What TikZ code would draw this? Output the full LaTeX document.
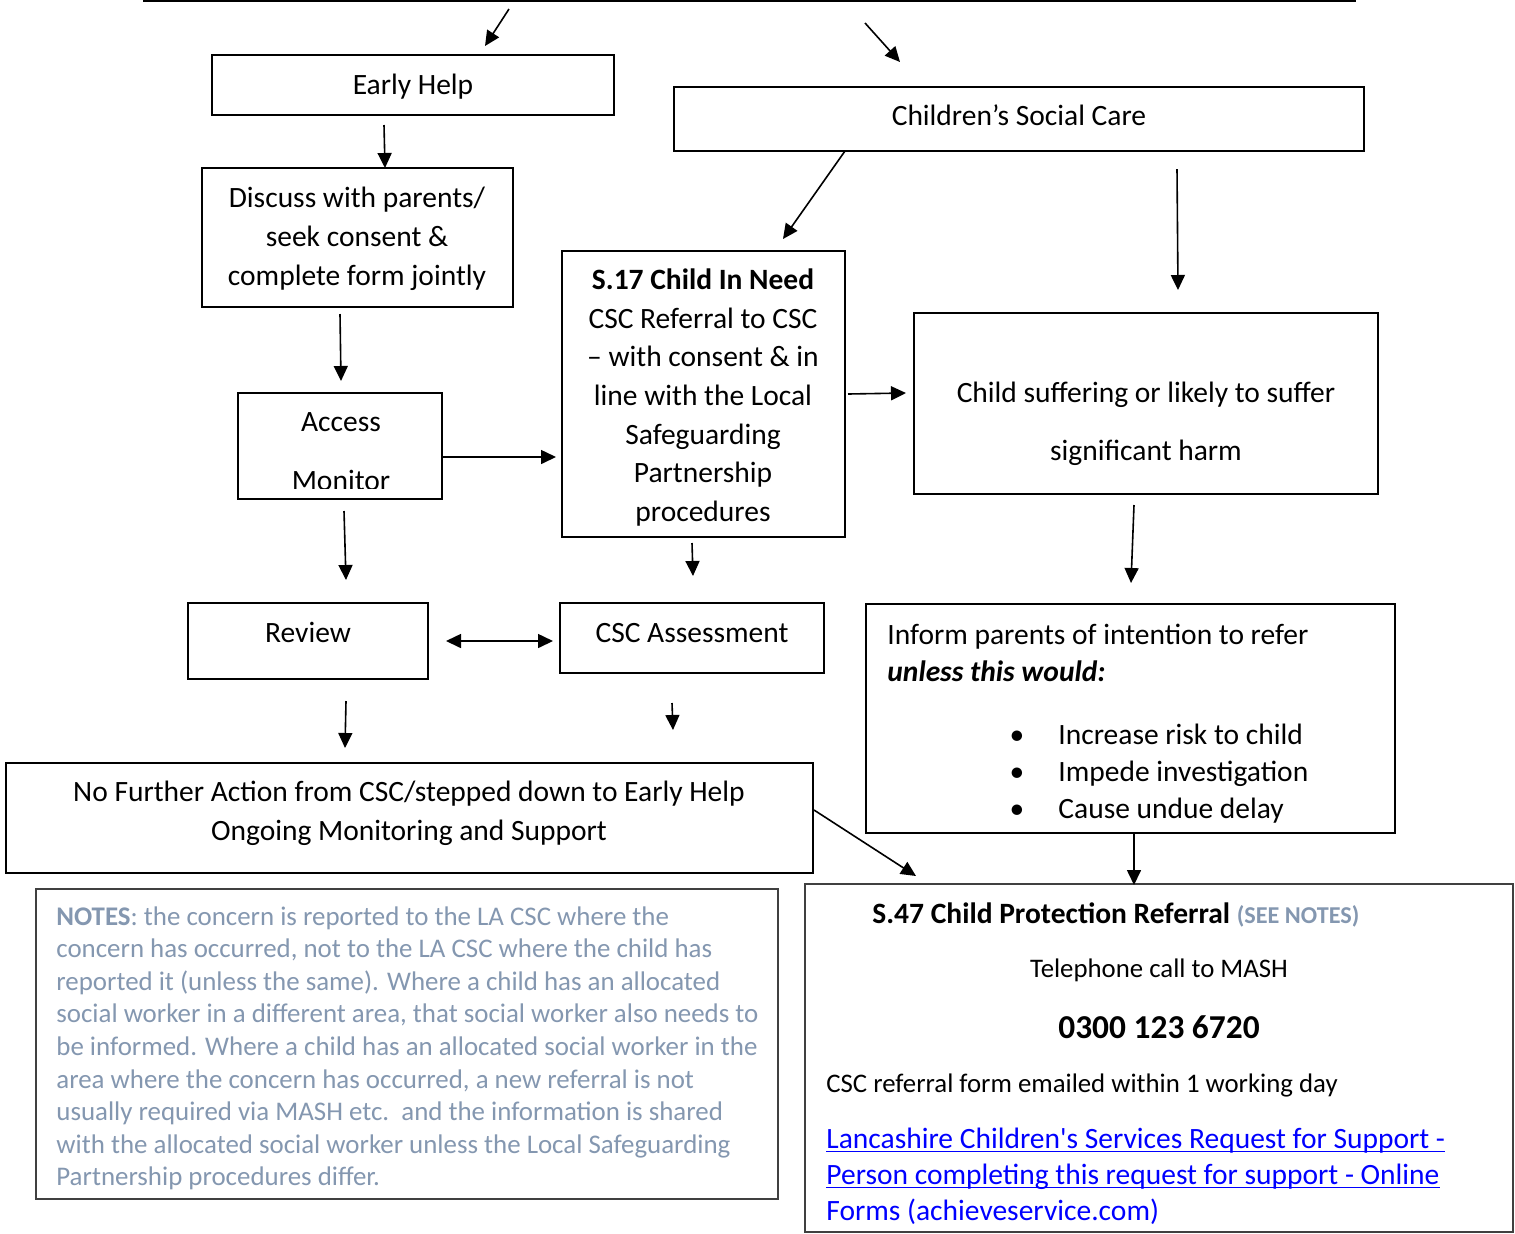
\documentclass[tikz,border=0pt]{standalone}
\usepackage{fontspec}
\setmainfont{Carlito}
\usetikzlibrary{arrows.meta,fit}
\definecolor{notecol}{HTML}{8497B0}
\definecolor{linkblue}{HTML}{0000FF}
\definecolor{boxgray}{HTML}{404040}
\newcommand\mainsz{\fontsize{14.75pt}{19.35pt}\selectfont}
\newcommand\notesz{\fontsize{13.45pt}{16.3pt}\selectfont}
\newcommand\smsz{\fontsize{13.4pt}{16pt}\selectfont}
\newcommand\myul[1]{\setbox0\hbox{#1}\rlap{\rule[-2pt]{\wd0}{0.6pt}}\box0}
\begin{document}
\begin{tikzpicture}[x=0.5pt,y=-0.5pt,
  box/.style={draw=black,line width=0.9pt,inner sep=0pt,outer sep=0pt},
  nbox/.style={draw=boxgray,line width=0.7pt,inner sep=0pt,outer sep=0pt},
  txt/.style={anchor=base,inner sep=0pt,font=\mainsz},
  ltxt/.style={anchor=base west,inner sep=0pt,font=\mainsz},
  ntxt/.style={anchor=base west,inner sep=0pt,font=\notesz,text=notecol},
  arr/.style={line width=0.8pt,-{Triangle[length=7.5pt,width=7pt]}},
  darr/.style={line width=0.8pt,{Triangle[length=7.5pt,width=7pt]}-{Triangle[length=7.5pt,width=7pt]}}]
\useasboundingbox (0,0) rectangle (1515,1233);
\fill[white] (0,0) rectangle (1515,1233);

% top edge of box above
\draw[line width=1pt] (143,1) -- (1356,1);

% boxes
\node[box,fit={(212,55) (614,115)}] (eh) {};
\node[box,fit={(674,87) (1364,151)}] (csc) {};
\node[box,fit={(202,168) (513,307)}] (disc) {};
\node[box,fit={(562,251) (845,537)}] (s17) {};
\node[box,fit={(238,393) (442,499)}] (acc) {};
\node[box,fit={(914,313) (1378,494)}] (harm) {};
\node[box,fit={(188,603) (428,679)}] (rev) {};
\node[box,fit={(560,603) (824,673)}] (ass) {};
\node[box,fit={(866,604) (1395,833)}] (inf) {};
\node[box,fit={(6,763) (813,873)}] (nfa) {};
\node[nbox,fit={(36,889) (778,1199)}] (notes) {};
\node[nbox,fit={(805,884) (1513,1232)}] (s47) {};

% texts
\node[txt] (tEH) at (413,94) {Early Help};
\node[txt] (tCSC) at (1019,125) {Children’s Social Care};
\node[txt] (tD1) at (357,207) {Discuss with parents/};
\node[txt] (tD2) at (357,246) {seek consent \&};
\node[txt] (tD3) at (357,285) {complete form jointly};
\node[txt] (tS1) at (703,289) {\textbf{S.17 Child In Need}};
\node[txt] (tS2) at (703,328) {CSC Referral to CSC};
\node[txt] (tS3) at (703,366) {– with consent \& in};
\node[txt] (tS4) at (703,405) {line with the Local};
\node[txt] (tS5) at (703,444) {Safeguarding};
\node[txt] (tS6) at (703,482) {Partnership};
\node[txt] (tS7) at (703,521) {procedures};
\node[txt] (tA1) at (341,431) {Access};
\begin{scope}
\clip (238,393) rectangle (442,488);
\node[txt] (tA2) at (341,490) {Monitor};
\end{scope}
\node[txt] (tH1) at (1146,402) {Child suffering or likely to suffer};
\node[txt] (tH2) at (1146,460) {significant harm};
\node[txt] (tR) at (308,642) {Review};
\node[txt] (tAs) at (692,642) {CSC Assessment};
\node[ltxt] (tI1) at (887,644) {Inform parents of intention to refer};
\node[ltxt] (tI2) at (887,681) {\textbf{\textit{unless this would:}}};
\node[txt] (b1) at (1017,744) {•};
\node[txt] (b2) at (1017,781) {•};
\node[txt] (b3) at (1017,818) {•};
\node[ltxt] (tI3) at (1058,744) {Increase risk to child};
\node[ltxt] (tI4) at (1058,781) {Impede investigation};
\node[ltxt] (tI5) at (1058,818) {Cause undue delay};
\node[txt] (tN1) at (409,801) {No Further Action from CSC/stepped down to Early Help};
\node[txt] (tN2) at (409,840) {Ongoing Monitoring and Support};

% notes
\node[ntxt] (n1) at (56,925) {\textbf{NOTES}: the concern is reported to the LA CSC where the};
\node[ntxt] (n2) at (56,957.6) {concern has occurred, not to the LA CSC where the child has};
\node[ntxt] (n3) at (56,990.2) {reported it (unless the same). Where a child has an allocated};
\node[ntxt] (n4) at (56,1022.8) {social worker in a different area, that social worker also needs to};
\node[ntxt] (n5) at (56,1055.4) {be informed. Where a child has an allocated social worker in the};
\node[ntxt] (n6) at (56,1088) {area where the concern has occurred, a new referral is not};
\node[ntxt] (n7) at (56,1120.6) {usually required via MASH etc.\ \ and the information is shared};
\node[ntxt] (n8) at (56,1153.2) {with the allocated social worker unless the Local Safeguarding};
\node[ntxt] (n9) at (56,1185.8) {Partnership procedures differ.};

% S47
\node[ltxt] (p1) at (872,923) {\textbf{S.47 Child Protection Referral} {\fontsize{12.1pt}{14pt}\selectfont\bfseries\color{notecol}(SEE NOTES)}};
\node[txt,font=\smsz] (p2) at (1159,977) {Telephone call to MASH};
\node[txt,font=\fontsize{16.7pt}{20pt}\selectfont\bfseries] (p3) at (1159,1038) {0300 123 6720};
\node[ltxt,font=\smsz] (p4) at (826,1092) {CSC referral form emailed within 1 working day};
\node[ltxt,text=linkblue] (p5) at (826,1148) {\myul{Lancashire Children\textquotesingle s Services Request for Support -}};
\node[ltxt,text=linkblue] (p6) at (826,1184) {\myul{Person completing this request for support - Online}};
\node[ltxt,text=linkblue] (p7) at (826,1220) {Forms (achieveservice.com)};

% arrow coordinates
\coordinate (a1s) at (509,9);    \coordinate (a1e) at (485,46);
\coordinate (a2s) at (865,23);   \coordinate (a2e) at (900,62);
\coordinate (a3s) at (384,125);  \coordinate (a3e) at (385,168);
\coordinate (a4s) at (340,314);  \coordinate (a4e) at (341,381);
\coordinate (a5s) at (845,151);  \coordinate (a5e) at (783,239);
\coordinate (a6s) at (1177,169); \coordinate (a6e) at (1178,290);
\coordinate (a7s) at (442,457);  \coordinate (a7e) at (556,457);
\coordinate (a8s) at (344,511);  \coordinate (a8e) at (346,580);
\coordinate (a9s) at (692,543);  \coordinate (a9e) at (693,576);
\coordinate (a10s) at (446,641); \coordinate (a10e) at (553,641);
\coordinate (a11s) at (346,701); \coordinate (a11e) at (345,748);
\coordinate (a12s) at (672,703); \coordinate (a12e) at (673,730);
\coordinate (a13s) at (848,394); \coordinate (a13e) at (906,393);
\coordinate (a14s) at (1134,505);\coordinate (a14e) at (1131,583);
\coordinate (a15s) at (814,810); \coordinate (a15e) at (916,876);
\coordinate (a16s) at (1134,833);\coordinate (a16e) at (1134,885);

\draw[arr] (a1s) -- (a1e);
\draw[arr] (a2s) -- (a2e);
\draw[arr] (a3s) -- (a3e);
\draw[arr] (a4s) -- (a4e);
\draw[arr] (a5s) -- (a5e);
\draw[arr] (a6s) -- (a6e);
\draw[arr] (a7s) -- (a7e);
\draw[arr] (a8s) -- (a8e);
\draw[arr] (a9s) -- (a9e);
\draw[darr] (a10s) -- (a10e);
\draw[arr] (a11s) -- (a11e);
\draw[arr] (a12s) -- (a12e);
\draw[arr] (a13s) -- (a13e);
\draw[arr] (a14s) -- (a14e);
\draw[arr] (a15s) -- (a15e);
\draw[arr] (a16s) -- (a16e);
\end{tikzpicture}
\end{document}
